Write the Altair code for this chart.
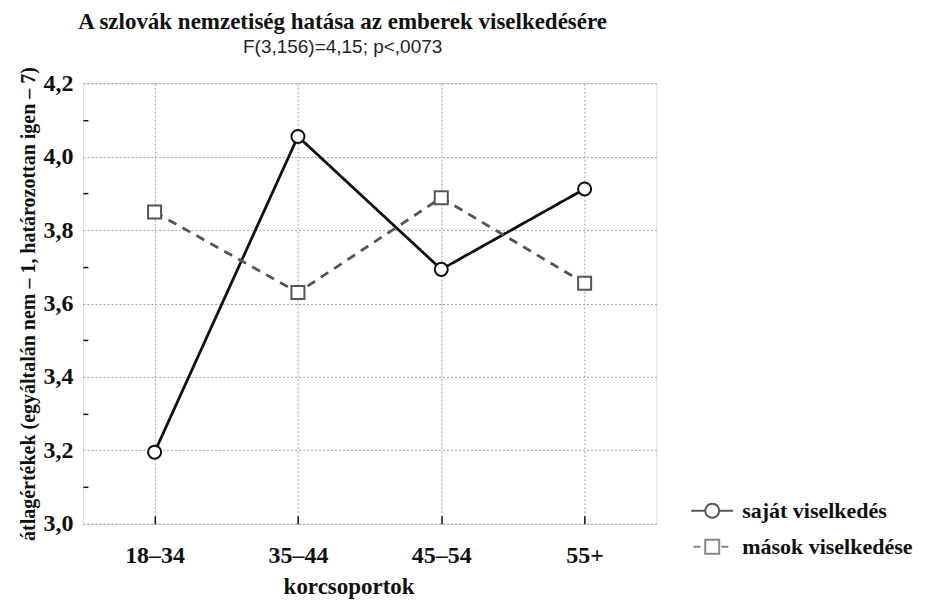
import altair as alt
import pandas as pd

categories = ["18–34", "35–44", "45–54", "55+"]
series_names = ["saját viselkedés", "mások viselkedése"]
sajat_values = [3.195, 4.055, 3.693, 3.912]
masok_values = [3.849, 3.630, 3.888, 3.655]
y_ticks = [3.0, 3.2, 3.4, 3.6, 3.8, 4.0, 4.2]
y_minor_ticks = [3.1, 3.3, 3.5, 3.7, 3.9, 4.1]

rows = []
for c, v in zip(categories, sajat_values):
    rows.append({"korcsoport": c, "ertek": v, "sorozat": series_names[0]})
for c, v in zip(categories, masok_values):
    rows.append({"korcsoport": c, "ertek": v, "sorozat": series_names[1]})
df = pd.DataFrame(rows)

SERIF = "Liberation Serif"
SANS = "Liberation Sans"

xscale = alt.Scale(type="point", domain=categories, padding=0.5)
yscale = alt.Scale(domain=[3.0, 4.2], nice=False, zero=False)

base = alt.Chart(df)

lines = base.mark_line(strokeWidth=2.8).encode(
    x=alt.X("korcsoport:N", scale=xscale, sort=categories,
            axis=alt.Axis(title="korcsoportok", labelFont=SERIF, labelFontWeight="bold",
                          labelFontSize=24, labelColor="#111", labelAngle=0,
                          labelPadding=20, ticks=False, domain=False,
                          grid=True, gridDash=[2, 2], gridColor="#a0a0a0", gridWidth=1,
                          titleFont=SERIF, titleFontWeight="bold", titleFontSize=23,
                          titleColor="#111", titlePadding=8, titleX=266)),
    y=alt.Y("ertek:Q", scale=yscale,
            axis=alt.Axis(values=y_ticks, format=".1f", labelExpr="replace(datum.label, '.', ',')",
                          title="átlagértékek (egyáltalán nem – 1, határozottan igen – 7)",
                          labelFont=SERIF, labelFontWeight="bold", labelFontSize=24,
                          labelColor="#111", labelPadding=10, ticks=False, domain=False,
                          grid=True, gridDash=[2, 2], gridColor="#a0a0a0", gridWidth=1,
                          titleFont=SERIF, titleFontWeight="bold", titleFontSize=20,
                          titleColor="#111", titlePadding=4)),
    color=alt.Color("sorozat:N", scale=alt.Scale(domain=series_names, range=["#111111", "#555555"]),
                    legend=None),
    strokeDash=alt.StrokeDash("sorozat:N", scale=alt.Scale(domain=series_names, range=[[1, 0], [9, 7]]),
                              legend=None),
)

points = base.mark_point(filled=True, fill="white", strokeWidth=2, size=170, opacity=1).encode(
    x=alt.X("korcsoport:N", scale=xscale, sort=categories,
            axis=alt.Axis(orient="bottom", offset=-8, tickSize=8, tickColor="#111", tickWidth=1.5,
                          labels=False, domain=False, grid=False, title=None)),
    y=alt.Y("ertek:Q", scale=yscale,
            axis=alt.Axis(orient="left", offset=-5, values=y_minor_ticks, tickSize=5,
                          tickColor="#111", tickWidth=1.5, labels=False, domain=False,
                          grid=False, title=None)),
    shape=alt.Shape("sorozat:N", scale=alt.Scale(domain=series_names, range=["circle", "square"]),
                    legend=None),
    stroke=alt.Stroke("sorozat:N", scale=alt.Scale(domain=series_names, range=["#111111", "#555555"]),
                      legend=None),
)

leg_paths = [
    "M-3,0H-1M1,0H3M-1,0A1,1 0 1,0 1,0A1,1 0 1,0 -1,0Z",
    "M-2.7,0H-1.7M1.3,0H2.3M-1,-1H1V1H-1Z",
]
legend_def = alt.Legend(title=None, orient="none", legendX=619, legendY=417,
                        labelFont=SERIF, labelFontWeight="bold", labelFontSize=22,
                        labelColor="#111", labelLimit=400, symbolSize=196, symbolStrokeWidth=2,
                        labelOffset=19, rowPadding=14)
legend_layer = base.transform_filter("false").mark_point(size=196, strokeWidth=2).encode(
    x=alt.X("korcsoport:N", scale=xscale, sort=categories, axis=None),
    y=alt.Y("ertek:Q", scale=yscale, axis=None),
    shape=alt.Shape("sorozat:N", scale=alt.Scale(domain=series_names, range=leg_paths),
                    legend=legend_def),
    stroke=alt.Stroke("sorozat:N", scale=alt.Scale(domain=series_names, range=["#111111", "#555555"]),
                      legend=legend_def),
)

chart = alt.layer(lines, points, legend_layer).resolve_scale(
    shape="independent", stroke="independent"
).resolve_axis(
    x="independent", y="independent"
).properties(
    width=574, height=441,
    autosize=alt.AutoSizeParams(type="none"),
    padding={"left": 75, "top": 75, "right": 262, "bottom": 80},
    title=alt.TitleParams(
        text="A szlovák nemzetiség hatása az emberek viselkedésére",
        subtitle="F(3,156)=4,15; p<,0073",
        anchor="middle", frame="group", dx=-27, offset=9,
        font=SERIF, fontWeight="bold", fontSize=23, color="#111",
        subtitleFont=SANS, subtitleFontSize=19, subtitleColor="#222", subtitlePadding=5,
    ),
).configure_view(
    stroke="#111", strokeWidth=2
).configure(background="white")

chart.save("out.html", embed_options={"renderer": "svg", "actions": False})
